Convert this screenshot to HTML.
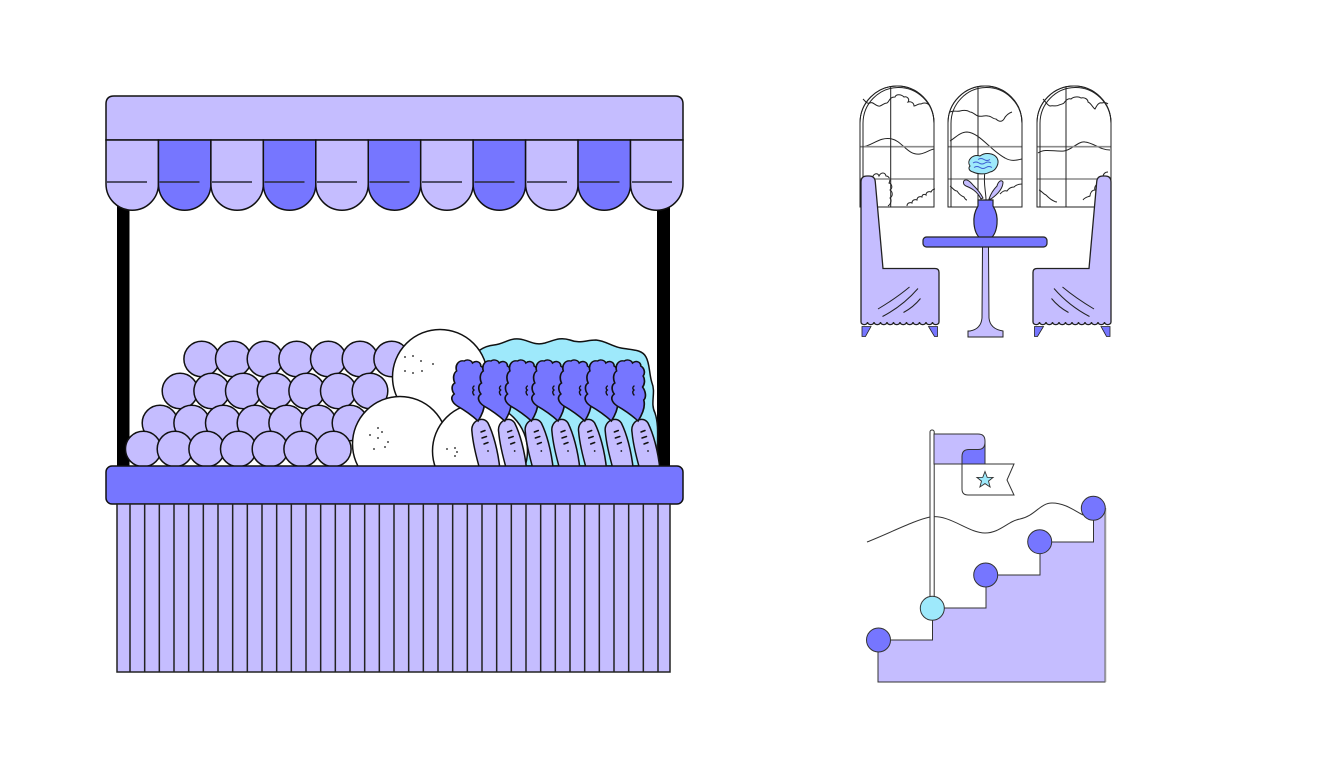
<!DOCTYPE html>
<html>
<head>
<meta charset="utf-8">
<style>
html,body{margin:0;padding:0;background:#fff;}
svg{display:block;}
</style>
</head>
<body>
<svg width="1344" height="768" viewBox="0 0 1344 768" xmlns="http://www.w3.org/2000/svg">
<rect width="1344" height="768" fill="#fff"/>

<!-- ================= MARKET STALL ================= -->
<rect x="117" y="195" width="12.5" height="275" fill="#000"/>
<rect x="657" y="195" width="13" height="275" fill="#000"/>

<path d="M106 140 V104 Q106 96 114 96 H675 Q683 96 683 104 V140 Z" fill="#c5bdff" stroke="#111" stroke-width="1.5"/>

<g stroke="#111" stroke-width="1.5">
<path d="M106 140 V184 A26.2 26.2 0 0 0 158.45 184 V140 Z" fill="#c5bdff"/>
<path d="M158.45 140 V184 A26.2 26.2 0 0 0 210.9 184 V140 Z" fill="#7676ff"/>
<path d="M210.9 140 V184 A26.2 26.2 0 0 0 263.35 184 V140 Z" fill="#c5bdff"/>
<path d="M263.35 140 V184 A26.2 26.2 0 0 0 315.8 184 V140 Z" fill="#7676ff"/>
<path d="M315.8 140 V184 A26.2 26.2 0 0 0 368.25 184 V140 Z" fill="#c5bdff"/>
<path d="M368.25 140 V184 A26.2 26.2 0 0 0 420.7 184 V140 Z" fill="#7676ff"/>
<path d="M420.7 140 V184 A26.2 26.2 0 0 0 473.15 184 V140 Z" fill="#c5bdff"/>
<path d="M473.15 140 V184 A26.2 26.2 0 0 0 525.6 184 V140 Z" fill="#7676ff"/>
<path d="M525.6 140 V184 A26.2 26.2 0 0 0 578.05 184 V140 Z" fill="#c5bdff"/>
<path d="M578.05 140 V184 A26.2 26.2 0 0 0 630.5 184 V140 Z" fill="#7676ff"/>
<path d="M630.5 140 V184 A26.2 26.2 0 0 0 683 184 V140 Z" fill="#c5bdff"/>
</g>
<g stroke="#2a2a3a" stroke-width="1.6">
<path d="M107 182 H147 M159.5 182 H199.5 M212 182 H252 M264.5 182 H304.5 M317 182 H357 M369.5 182 H409.5 M422 182 H462 M474.5 182 H514.5 M527 182 H567 M579.5 182 H619.5 M632 182 H672"/>
</g>

<!-- purple produce rows -->
<g fill="#c5bdff" stroke="#111" stroke-width="1.5">
<circle cx="201.7" cy="359" r="17.8"/><circle cx="233.3" cy="359" r="17.8"/><circle cx="265" cy="359" r="17.8"/><circle cx="296.7" cy="359" r="17.8"/><circle cx="328.3" cy="359" r="17.8"/><circle cx="360" cy="359" r="17.8"/><circle cx="391.7" cy="359" r="17.8"/>
<circle cx="180" cy="391" r="17.8"/><circle cx="211.7" cy="391" r="17.8"/><circle cx="243.3" cy="391" r="17.8"/><circle cx="275" cy="391" r="17.8"/><circle cx="306.7" cy="391" r="17.8"/><circle cx="338.3" cy="391" r="17.8"/><circle cx="370" cy="391" r="17.8"/>
<circle cx="160" cy="423" r="17.8"/><circle cx="191.7" cy="423" r="17.8"/><circle cx="223.3" cy="423" r="17.8"/><circle cx="255" cy="423" r="17.8"/><circle cx="286.7" cy="423" r="17.8"/><circle cx="318.3" cy="423" r="17.8"/><circle cx="350" cy="423" r="17.8"/>
<circle cx="143.3" cy="449" r="17.8"/><circle cx="175" cy="449" r="17.8"/><circle cx="206.7" cy="449" r="17.8"/><circle cx="238.3" cy="449" r="17.8"/><circle cx="270" cy="449" r="17.8"/><circle cx="301.7" cy="449" r="17.8"/><circle cx="333.3" cy="449" r="17.8"/>
</g>

<!-- cyan leafy background -->
<path d="M470 466 L470 362 C474 352 484 346 494 345 C504 344 509 338 519 339 C529 340 534 346 545 343 C555 340 560 337 570 340 C580 344 586 340 596 340 C606 341 611 346 621 348 C631 350 642 349 646 357 C650 364 649 374 652 383 C656 393 650 403 655 413 C660 428 656 445 658 466 Z" fill="#9ee9fb" stroke="#111" stroke-width="1.5"/>

<!-- onions -->
<g fill="#fff" stroke="#111" stroke-width="1.5">
<circle cx="440" cy="377" r="47.5"/>
<circle cx="400" cy="444" r="47.5"/>
<circle cx="480" cy="451" r="47.5"/>
</g>
<g fill="#111">
<circle cx="405" cy="357" r="0.9"/><circle cx="413" cy="356" r="0.9"/><circle cx="421" cy="361" r="0.9"/><circle cx="433" cy="364" r="0.9"/><circle cx="405" cy="371" r="0.9"/><circle cx="413" cy="373" r="0.9"/><circle cx="422" cy="371" r="0.9"/>
<circle cx="370" cy="435" r="0.9"/><circle cx="378" cy="428" r="0.9"/><circle cx="382" cy="432" r="0.9"/><circle cx="378" cy="438" r="0.9"/><circle cx="388" cy="442" r="0.9"/><circle cx="385" cy="447" r="0.9"/><circle cx="374" cy="449" r="0.9"/>
<circle cx="447" cy="449" r="0.9"/><circle cx="455" cy="448" r="0.9"/><circle cx="457" cy="452" r="0.9"/><circle cx="455" cy="456" r="0.9"/>
</g>

<!-- carrots -->
<defs>
<g id="carrot">
<path d="M472 432 C470 421 483 415 488 423 C493 433 498 450 500 470 L480 470 C476 456 473 444 472 432 Z" fill="#c5bdff" stroke="#111" stroke-width="1.5"/>
<path d="M481 432 l4 -1.5 M482 438 l4.5 -1.5 M484 444 l4 -1.5" stroke="#111" stroke-width="1.5" stroke-linecap="round" fill="none"/>
<circle cx="488" cy="451" r="0.9" fill="#111"/>
<g transform="translate(469,0) scale(1.18,1) translate(-469,0)">
<path d="M476.7 421 C472 416 465 410 459 406 C454 402 453 397 456.5 394 C454 390 454 385 457 383 C455 378 456 373 458.5 371 C457 365 460 360 465 361 C467 359 471 360 472 363 C475 360 479 362 479 366 C482 368 483 373 481 376 C483 380 482 385 480.5 387 C483 391 484 397 481.5 400 C483 406 481 413 476.7 421 Z" fill="#7676ff" stroke="#111" stroke-width="1.4"/>
</g>
<path d="M474 386 q-2.5 2 0 4 q-2.5 2 0 5" stroke="#111" stroke-width="1.4" fill="none" stroke-linecap="round"/>
</g>
</defs>
<use href="#carrot"/>
<use href="#carrot" transform="translate(26.67,0)"/>
<use href="#carrot" transform="translate(53.33,0)"/>
<use href="#carrot" transform="translate(80,0)"/>
<use href="#carrot" transform="translate(106.67,0)"/>
<use href="#carrot" transform="translate(133.33,0)"/>
<use href="#carrot" transform="translate(160,0)"/>

<!-- counter -->
<rect x="106" y="466" width="577" height="38" rx="6" fill="#7676ff" stroke="#111" stroke-width="1.5"/>

<!-- skirt -->
<rect x="117" y="504" width="553" height="168" fill="#c5bdff" stroke="#222" stroke-width="1.5"/>
<path stroke="#222" stroke-width="1.5" d="M130 504V672 M144.67 504V672 M159.33 504V672 M174 504V672 M188.67 504V672 M203.33 504V672 M218 504V672 M232.67 504V672 M247.33 504V672 M262 504V672 M276.67 504V672 M291.33 504V672 M306 504V672 M320.67 504V672 M335.33 504V672 M350 504V672 M364.67 504V672 M379.33 504V672 M394 504V672 M408.67 504V672 M423.33 504V672 M438 504V672 M452.67 504V672 M467.33 504V672 M482 504V672 M496.67 504V672 M511.33 504V672 M526 504V672 M540.67 504V672 M555.33 504V672 M570 504V672 M584.67 504V672 M599.33 504V672 M614 504V672 M628.67 504V672 M643.33 504V672 M658 504V672"/>

<!-- ================= DINER ================= -->
<g fill="none" stroke="#222" stroke-width="1">
<path d="M860 207 V123 A37 37 0 0 1 934 123 V207 Z" fill="#fff"/>
<path d="M863 99 c3 3 4 5 7 4 c3 -2 6 4 10 3 c3 -1 4 -3 7 -3 c3 -2 2 -6 8 -6 c1 -3 6 -3 9 0 c3 -1 6 2 4 5 c3 -1 6 1 6 4 c2 0 5 -3 7 -2 c3 -2 7 -1 9 2"/>
<path d="M862 147 C872 146 880 136 892 139 C902 141 908 156 920 154 C926 153 929 150 934 149"/>
<path d="M873 206 V176 c2 -3 5 -3 6 0 c2 -4 6 -4 7 0 c3 0 5 4 3 7 c3 1 4 5 1 7 c3 2 3 6 0 8 c2 2 1 6 -2 8"/>
<path d="M907 206 c0 -3 3 -4 5 -3 c0 -3 3 -4 5 -3 c0 -3 3 -4 5 -3 c0 -3 3 -3 4 -2 c0 -3 3 -4 5 -3 c1 -2 2 -3 4 -3"/>
<path d="M948 207 V123 A37 37 0 0 1 1022 123 V207 Z" fill="#fff"/>
<path d="M950 112 c4 -2 7 0 10 -1 c4 -1 7 -1 10 1 c3 0 5 3 8 4 c4 1 7 -1 10 0 c3 0 5 3 8 3 c3 3 6 3 8 0 c2 -4 5 -6 8 -7"/>
<path d="M950 141 C955 138 960 132 967 132 C980 133 990 150 1005 158 C1012 162 1017 160 1022 159"/>
<path d="M950 186 c3 2 4 5 7 5 c2 3 4 5 7 6 c1 2 2 3 3 3"/>
<path d="M1000 194 c2 -2 4 -4 7 -3 c2 -3 5 -4 7 -4 c2 -2 5 -3 8 -3"/>
<path d="M1037 207 V123 A37 37 0 0 1 1111 123 V207 Z" fill="#fff"/>
<path d="M1043 99 c3 3 4 6 7 7 c3 -1 6 1 9 -1 c3 -1 4 -1 5 -2 c2 -3 4 -5 7 -4 c2 -2 7 -3 10 -1 c3 -1 7 1 7 4 c3 1 5 6 7 7 c2 -4 4 -7 7 -6 c2 -1 5 0 6 1"/>
<path d="M1038 153 C1045 148 1055 152 1064 151 C1072 150 1078 141 1085 142 C1094 143 1100 150 1110 150"/>
<path d="M1039 190 c3 1 4 4 7 5 c2 2 4 4 6 5 c2 1 3 2 5 2"/>
<path d="M1083 200 c2 -3 5 -3 7 -4 c0 -3 2 -6 5 -6 c-1 -3 1 -6 4 -6 c-1 -3 1 -6 4 -7 c0 -3 2 -5 5 -5"/>
</g>
<g stroke="#8a8a8a" stroke-width="1.6">
<path d="M860 146.7 H934 M860 179 H934 M948 146.7 H1022 M948 179 H1022 M1037 146.7 H1111 M1037 179 H1111"/>
</g>
<g stroke="#222" stroke-width="1" fill="none">
<path d="M890.7 86 V207 M978 86 V207 M1066 86 V207"/>
<path d="M863 207 V124 A35.5 36 0 0 1 934 123"/>
<path d="M951 207 V124 A35.5 36 0 0 1 1022 123"/>
<path d="M1040 207 V124 A35.5 36 0 0 1 1111 123"/>
<path d="M860 207 V123 A37 37 0 0 1 934 123 V207 Z M948 207 V123 A37 37 0 0 1 1022 123 V207 Z M1037 207 V123 A37 37 0 0 1 1111 123 V207 Z"/>
</g>

<!-- flower -->
<path d="M985 172 C983 182 986 192 986 200" stroke="#222" stroke-width="1" fill="none"/>
<path d="M981 199 C977 191 971 188 966 186 C962 184 963 179 967 180 C970 181 972 184 974 186 C978 190 981 194 983 198 Z" fill="#c5bdff" stroke="#222" stroke-width="1"/>
<path d="M989 199 C991 193 994 189 997 186 C998 182 1001 179 1003 182 C1003 188 998 194 991 199 Z" fill="#c5bdff" stroke="#222" stroke-width="1"/>
<path d="M970 166 C966 160 973 154 980 156 C985 152 994 153 997 158 C1000 163 996 171 990 172 C985 175 977 174 973 172 C969 171 968 168 970 166 Z" fill="#9ee9fb" stroke="#222" stroke-width="1"/>
<path d="M973 163 q3 -2 6 0 t6 0 t6 0 M974 167.5 q3 -2 6 0 t6 0 t6 0 M978 159.5 q3 -2 6 0 t6 0" stroke="#3a5ad0" stroke-width="0.9" fill="none"/>

<path d="M978 200 L993 200 L993 206 Q998 214 997 224 Q996 234 991 238 L980 238 Q975 234 974 224 Q973 214 978 206 Z" fill="#7676ff" stroke="#222" stroke-width="1.2"/>

<path d="M982.5 247 L982 318 Q981 329 970 331 L968 331 L968 337 L1003 337 L1003 331 Q990 329 989 318 L988.5 247 Z" fill="#c5bdff" stroke="#222" stroke-width="1"/>
<rect x="923" y="237" width="124" height="10" rx="3.5" fill="#7676ff" stroke="#222" stroke-width="1.2"/>

<defs>
<g id="sofa">
<path d="M862 326.5 L871 326.5 L865.5 336.5 L862 336.5 Z" fill="#7676ff" stroke="#222" stroke-width="0.8"/>
<path d="M928.5 326.5 L937.5 326.5 L937.5 336.5 L934.5 336.5 Z" fill="#7676ff" stroke="#222" stroke-width="0.8"/>
<path d="M861 182 Q861 176 867 176 L869 176 Q875 176 875.3 182 L883 268.5 L935 268.5 Q939 268.5 939 272.5 L939 322 a3.25 2.6 0 0 1 -6.5 0 a3.25 2.6 0 0 1 -6.5 0 a3.25 2.6 0 0 1 -6.5 0 a3.25 2.6 0 0 1 -6.5 0 a3.25 2.6 0 0 1 -6.5 0 a3.25 2.6 0 0 1 -6.5 0 a3.25 2.6 0 0 1 -6.5 0 a3.25 2.6 0 0 1 -6.5 0 a3.25 2.6 0 0 1 -6.5 0 a3.25 2.6 0 0 1 -6.5 0 a3.25 2.6 0 0 1 -6.5 0 a3.25 2.6 0 0 1 -6.5 0 Z" fill="#c5bdff" stroke="#222" stroke-width="1.3"/>
<path d="M878 309 C888 303 900 295 909.5 287 M882.5 316.5 C895 310 908 300 918 288.5 M903.5 312.5 C910 309 916 304 920.5 298.5" stroke="#222" stroke-width="1" fill="none"/>
</g>
</defs>
<use href="#sofa"/>
<use href="#sofa" transform="translate(1972,0) scale(-1,1)"/>

<!-- ================= FLAG & STEPS ================= -->
<path d="M867 542 C890 533 915 520 930 517 C950 514 968 533 985 533 C1000 533 1008 521 1020 519 C1035 516 1040 503 1052 503 C1065 503 1075 511 1083 515" fill="none" stroke="#333" stroke-width="1"/>
<path d="M878 682 V640 H932.5 V608 H986 V575 H1040 V542 H1093.5 V508 H1105 V682 Z" fill="#c5bdff" stroke="#333" stroke-width="1"/>
<path d="M1105.5 508 V682" stroke="#999" stroke-width="1.5"/>
<rect x="930" y="430" width="4.2" height="170" rx="2" fill="#fff" stroke="#333" stroke-width="1"/>
<path d="M934 434 L978 434 Q985 434 985 441 L985 464 L934 464 Z" fill="#c5bdff" stroke="#333" stroke-width="1"/>
<path d="M962 464 L962 456.5 Q962 449.5 969 449.5 L978 449.5 Q985 449.5 985 442 L985 464 Z" fill="#7676ff" stroke="#333" stroke-width="1"/>
<path d="M962 464 L1014 464 L1007 480 L1014 495 L968 495 Q962 495 962 489 Z" fill="#fff" stroke="#333" stroke-width="1"/>
<path d="M985 471.5 L987.2 477.3 L993.1 477.4 L988.5 481.1 L990.1 487 L985 483.6 L979.9 487 L981.5 481.1 L976.9 477.4 L982.8 477.3 Z" fill="#9ee9fb" stroke="#333" stroke-width="0.9"/>
<g stroke="#333" stroke-width="1">
<circle cx="878.5" cy="640" r="12" fill="#7676ff"/>
<circle cx="932.3" cy="608.3" r="12" fill="#9ee9fb"/>
<circle cx="985.7" cy="575" r="12" fill="#7676ff"/>
<circle cx="1039.7" cy="541.7" r="12" fill="#7676ff"/>
<circle cx="1093.3" cy="508.3" r="12" fill="#7676ff"/>
</g>
</svg>
</body>
</html>
